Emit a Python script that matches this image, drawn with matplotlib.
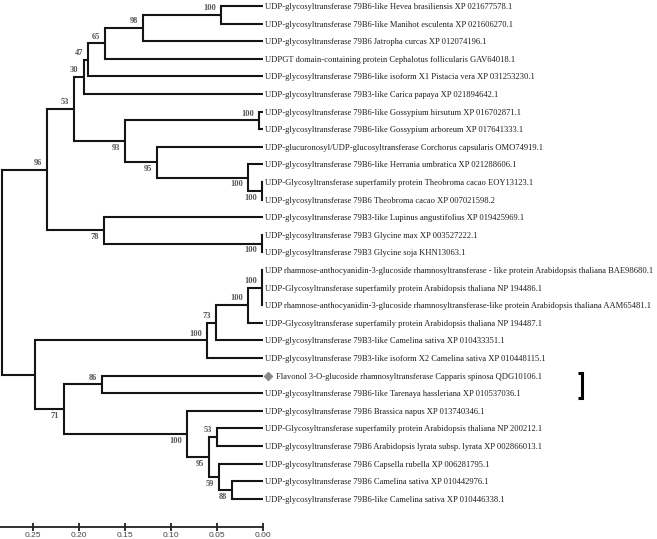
import matplotlib.pyplot as plt

# leaf labels, top to bottom
leaves = [
    "UDP-glycosyltransferase 79B6-like Hevea brasiliensis XP 021677578.1",
    "UDP-glycosyltransferase 79B6-like Manihot esculenta XP 021606270.1",
    "UDP-glycosyltransferase 79B6 Jatropha curcas XP 012074196.1",
    "UDPGT domain-containing protein Cephalotus follicularis GAV64018.1",
    "UDP-glycosyltransferase 79B6-like isoform X1 Pistacia vera XP 031253230.1",
    "UDP-glycosyltransferase 79B3-like Carica papaya XP 021894642.1",
    "UDP-glycosyltransferase 79B6-like Gossypium hirsutum XP 016702871.1",
    "UDP-glycosyltransferase 79B6-like Gossypium arboreum XP 017641333.1",
    "UDP-glucuronosyl/UDP-glucosyltransferase Corchorus capsularis OMO74919.1",
    "UDP-glycosyltransferase 79B6-like Herrania umbratica XP 021288606.1",
    "UDP-Glycosyltransferase superfamily protein Theobroma cacao EOY13123.1",
    "UDP-glycosyltransferase 79B6 Theobroma cacao XP 007021598.2",
    "UDP-glycosyltransferase 79B3-like Lupinus angustifolius XP 019425969.1",
    "UDP-glycosyltransferase 79B3 Glycine max XP 003527222.1",
    "UDP-glycosyltransferase 79B3 Glycine soja KHN13063.1",
    "UDP rhamnose-anthocyanidin-3-glucoside rhamnosyltransferase - like protein Arabidopsis thaliana BAE98680.1",
    "UDP-Glycosyltransferase superfamily protein Arabidopsis thaliana NP 194486.1",
    "UDP rhamnose-anthocyanidin-3-glucoside rhamnosyltransferase-like protein Arabidopsis thaliana AAM65481.1",
    "UDP-Glycosyltransferase superfamily protein Arabidopsis thaliana NP 194487.1",
    "UDP-glycosyltransferase 79B3-like Camelina sativa XP 010433351.1",
    "UDP-glycosyltransferase 79B3-like isoform X2 Camelina sativa XP 010448115.1",
    "Flavonol 3-O-glucoside rhamnosyltransferase Capparis spinosa QDG10106.1",
    "UDP-glycosyltransferase 79B6-like Tarenaya hassleriana XP 010537036.1",
    "UDP-glycosyltransferase 79B6 Brassica napus XP 013740346.1",
    "UDP-Glycosyltransferase superfamily protein Arabidopsis thaliana NP 200212.1",
    "UDP-glycosyltransferase 79B6 Arabidopsis lyrata subsp. lyrata XP 002866013.1",
    "UDP-glycosyltransferase 79B6 Capsella rubella XP 006281795.1",
    "UDP-glycosyltransferase 79B6 Camelina sativa XP 010442976.1",
    "UDP-glycosyltransferase 79B6-like Camelina sativa XP 010446338.1",
]
marked_leaf = 21  # the query sequence (diamond + bracket)

# internal nodes: children (leaf index or node name), height, bootstrap
node_names = ["A1", "A2", "A3", "A4", "A5", "B1", "B2", "B3", "B4", "B5", "AB",
              "C1", "C2", "ABC", "D1", "D2", "D3", "D4", "F1", "G5", "G4", "G2",
              "G3", "G1", "F2", "E", "root"]
node_kids = [[0, 1], ["A1", 2], ["A2", 3], ["A3", 4], ["A4", 5], [6, 7], [10, 11],
             [9, "B2"], [8, "B3"], ["B1", "B4"], ["A5", "B5"], [13, 14], [12, "C1"],
             ["AB", "C2"], [15, 16, 17], ["D1", 18], ["D2", 19], ["D3", 20], [21, 22],
             [27, 28], [26, "G5"], [24, 25], ["G2", "G4"], [23, "G3"], ["F1", "G1"],
             ["D4", "F2"], ["ABC", "E"]]
node_height = [0.0457, 0.130, 0.172, 0.190, 0.195, 0.004, 0.001, 0.016, 0.115, 0.150,
               0.205, 0.001, 0.173, 0.235, 0.001, 0.016, 0.051, 0.061, 0.175, 0.034,
               0.048, 0.050, 0.059, 0.083, 0.216, 0.248, 0.284]
node_boot = [100, 98, 65, 47, 30, 100, 100, 100, 95, 93, 53, 100, 78, 96, 100, 100,
             73, 100, 86, 88, 59, 53, 95, 100, 71, None, None]

scale_ticks = [0.25, 0.20, 0.15, 0.10, 0.05, 0.00]

#Layout
pos = {}
for i in range(len(leaves)):
    pos[i] = (0.0, float(i))
for name, kids, h in zip(node_names, node_kids, node_height):
    y = (pos[kids[0]][1] + pos[kids[-1]][1]) / 2
    pos[name] = (h, y)

parent_first = {}
for kids in node_kids:
    for k in kids:
        parent_first[k] = (k == kids[0])

#Figure
fig = plt.figure(figsize=(6.57, 5.39), dpi=100)
ax = fig.add_axes([0, 0, 1, 1])
lc = "#151515"
lw = 1.5

for name, kids, boot in zip(node_names, node_kids, node_boot):
    h, y = pos[name]
    ax.plot([h, h], [pos[kids[0]][1], pos[kids[-1]][1]], color=lc, lw=lw,
            solid_capstyle="projecting")
    for k in kids:
        kh, ky = pos[k]
        ax.plot([h, kh], [ky, ky], color=lc, lw=lw, solid_capstyle="butt")
    if boot is not None:
        above = parent_first.get(name, True)
        ax.annotate(str(boot), xy=(h, y), xytext=(-3.6, 2.0 if above else -2.0),
                    textcoords="offset points", ha="right",
                    va="bottom" if above else "top",
                    fontsize=6.0, color="#555555", family="Liberation Serif",
                    fontweight="bold")

for i, lab in enumerate(leaves):
    dx = 1.4
    if i == marked_leaf:
        ax.plot([-0.0055], [i], marker="D", ms=4.2, color="#8a8a8a", mec="#8a8a8a")
        dx = 9.0
    ax.annotate(lab, xy=(0, i), xytext=(dx, 0), textcoords="offset points",
                ha="left", va="center_baseline", fontsize=6.1, color="#1e1e1e",
                family="Liberation Serif")

# bracket marking the query
bx0, bx1 = -0.3424, -0.3473
by0, by1 = marked_leaf - 0.15, marked_leaf + 1.27
ax.plot([bx0, bx1, bx1, bx0], [by0, by0, by1, by1], color="black", lw=2.2,
        solid_joinstyle="miter", solid_capstyle="butt")

#Scale axis
ax.set_xlim(0.2859, -0.4283)
ax.set_ylim(30.28, -0.341)
for s in ["top", "left", "right"]:
    ax.spines[s].set_visible(False)
ax.spines["bottom"].set_position(("data", 29.6))
ax.spines["bottom"].set_bounds(0.0, 0.2859)
ax.spines["bottom"].set_linewidth(1.3)
ax.spines["bottom"].set_color("#222222")
ax.set_xticks(scale_ticks)
ax.set_xticklabels(["%.2f" % t for t in scale_ticks], family="Liberation Sans",
                   fontsize=6.0, color="#444444")
ax.tick_params(axis="x", direction="inout", length=6, width=1.3, pad=0.5,
               color="#222222")
ax.set_yticks([])

fig.savefig("out.png", dpi=100)
